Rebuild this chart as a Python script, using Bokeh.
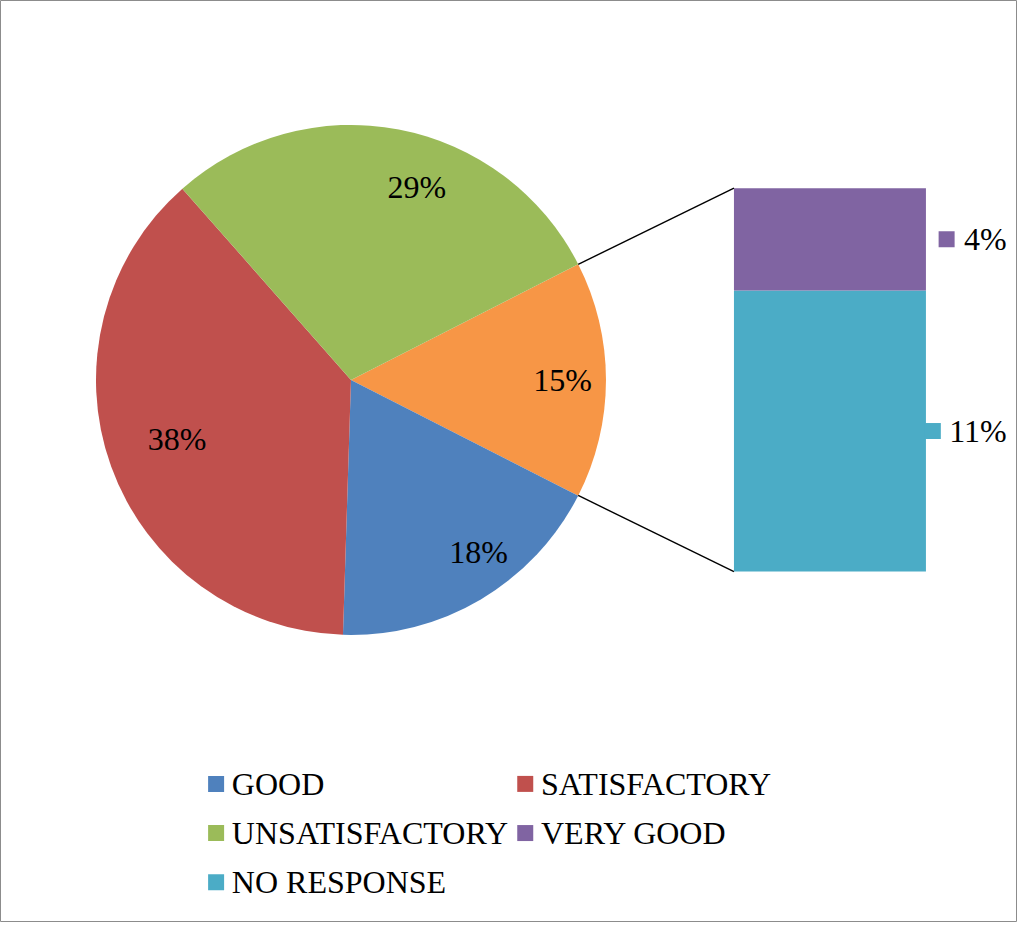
import numpy as np
from bokeh.plotting import figure
from bokeh.models import Range1d, ColumnDataSource
from bokeh.core.properties import value
from bokeh.embed import file_html
from bokeh.resources import INLINE

# ---- data ----
pie_categories = ["OTHER", "GOOD", "SATISFACTORY", "UNSATISFACTORY"]
pie_values = [15, 18, 38, 29]          # percent (OTHER = VERY GOOD + NO RESPONSE)
bar_categories = ["NO RESPONSE", "VERY GOOD"]
bar_values = [11, 4]
legend_categories = ["GOOD", "SATISFACTORY", "UNSATISFACTORY", "VERY GOOD", "NO RESPONSE"]

# ---- style ----
colors = {"GOOD": "#4F81BD", "SATISFACTORY": "#C0504D", "UNSATISFACTORY": "#9BBB59",
          "VERY GOOD": "#8064A2", "NO RESPONSE": "#4BACC6", "OTHER": "#F79646"}
FONT = value("Liberation Serif")
FS = "32px"
W, H = 1017, 922
CW, CH = 1033, 938  # chart coordinate frame


def sy(y):  # frame y (top-down) -> data y
    return CH - y


cx, cy, R = 356, sy(386), 259
# label placement (angle shift in degrees, radius fraction) per pie slice
label_shift = {"OTHER": (0, 0.83), "GOOD": (6, 0.84), "SATISFACTORY": (-1, 0.72), "UNSATISFACTORY": (-8, 0.80)}

p = figure(width=W, height=H, x_range=Range1d(0, CW), y_range=Range1d(0, CH),
           output_backend="svg", toolbar_location=None, x_axis_type=None, y_axis_type=None,
           min_border=0)
p.grid.visible = False
p.outline_line_color = "#8c8c8c"
p.outline_line_width = 1
p.background_fill_color = "white"
p.border_fill_color = "white"

# ---- pie (clockwise, OTHER centred at 0 deg) ----
vals = np.array(pie_values, dtype=float)
ang = vals / vals.sum() * 2 * np.pi
start0 = ang[0] / 2
ends = start0 - np.concatenate([[0], np.cumsum(ang)[:-1]])
starts = ends - ang
src = ColumnDataSource(dict(start=starts, end=ends,
                            color=[colors[c] for c in pie_categories]))
p.wedge(x=cx, y=cy, radius=R, start_angle="start", end_angle="end",
        fill_color="color", line_color=None, source=src)

# pie labels
lx, ly, lt = [], [], []
for c, v, s, e in zip(pie_categories, pie_values, starts, ends):
    sh, rf = label_shift[c]
    mid = (s + e) / 2 + np.deg2rad(sh)
    lx.append(cx + rf * R * np.cos(mid))
    ly.append(cy + rf * R * np.sin(mid))
    lt.append(f"{v}%")
p.text(x=lx, y=ly, text=lt, text_font=FONT, text_font_size=FS, text_color="black",
       text_align="center", text_baseline="middle")

# ---- bar of "other" ----
bx0, bx1 = 745, 940
bbot, btop = sy(581), sy(191)
scale = (btop - bbot) / sum(bar_values)
bv = np.array(bar_values, dtype=float)
bottoms = bbot + np.concatenate([[0], np.cumsum(bv)[:-1]]) * scale
tops = bottoms + bv * scale
p.quad(left=bx0, right=bx1, bottom=bottoms, top=tops,
       fill_color=[colors[c] for c in bar_categories], line_color=None)

# connector lines
a_top, a_bot = start0, -start0
p.line([cx + R * np.cos(a_top), bx0], [cy + R * np.sin(a_top), btop], line_color="black", line_width=1.4)
p.line([cx + R * np.cos(a_bot), bx0], [cy + R * np.sin(a_bot), bbot], line_color="black", line_width=1.4)

# bar labels with legend keys
mids = (bottoms + tops) / 2
key_x = {"NO RESPONSE": 947, "VERY GOOD": 961}
p.scatter(x=[key_x[c] for c in bar_categories], y=list(mids), marker="square", size=16,
          fill_color=[colors[c] for c in bar_categories], line_color=None)
p.text(x=[1022] * len(bar_categories), y=list(mids), text=[f"{v}%" for v in bar_values],
       text_font=FONT, text_font_size=FS, text_color="black",
       text_align="right", text_baseline="middle")

# ---- legend (2 columns, row-major) ----
col_x = [219, 533]
row_y = [797, 847, 897]
mx, my, tx, ty, cols = [], [], [], [], []
for i, c in enumerate(legend_categories):
    r, k = divmod(i, 2)
    mx.append(col_x[k]); my.append(sy(row_y[r]))
    tx.append(col_x[k] + 16); ty.append(sy(row_y[r]))
    cols.append(colors[c])
p.scatter(x=mx, y=my, marker="square", size=16, fill_color=cols, line_color=None)
p.text(x=tx, y=ty, text=legend_categories, text_font=FONT, text_font_size=FS,
       text_color="black", text_align="left", text_baseline="middle")

open("out.html", "w").write(file_html(p, INLINE))
